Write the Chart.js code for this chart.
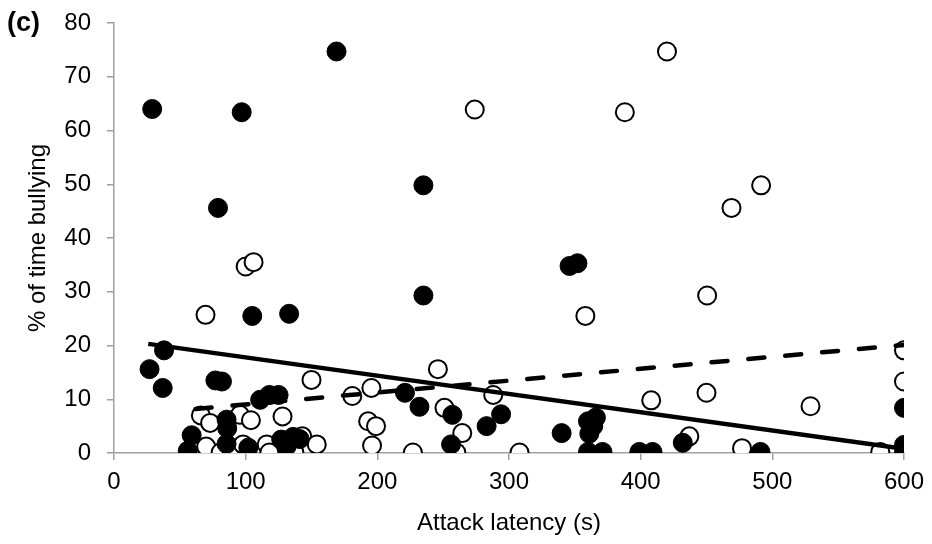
<!DOCTYPE html>
<html>
<head>
<meta charset="utf-8">
<script src="https://cdn.jsdelivr.net/npm/chart.js@4.4.1/dist/chart.umd.min.js"></script>
<style>
  html, body { margin: 0; padding: 0; background: #fff; }
  #wrap { width: 932px; height: 544px; }
</style>
</head>
<body>
<div id="wrap"><canvas id="myChart" width="932" height="544"></canvas></div>
<script>
// filled circles (black)
const filledX = [29, 97, 169, 235, 79, 346, 352, 105, 133, 235,
  38, 27, 37, 77, 82, 221, 232, 257, 294, 283,
  256, 56, 59, 85.5, 86, 85.5, 102, 111, 118, 125,
  127, 131, 136, 141, 340, 360, 366, 361, 364, 360,
  371, 399, 409, 432, 491, 600, 600, 600]
const filledY = [64.0, 63.4, 74.7, 49.8, 45.6, 34.8, 35.3, 25.5, 25.9, 29.3,
  19.1, 15.6, 12.1, 13.5, 13.3, 11.2, 8.6, 7.1, 7.2, 5.0,
  1.6, 0.4, 3.3, 6.2, 4.6, 1.7, 1.0, 9.9, 10.8, 10.8,
  2.5, 1.2, 3.0, 2.6, 3.7, 5.9, 6.6, 3.6, 5.0, 0.2,
  0.2, 0.2, 0.2, 1.9, 0.2, 1.5, 0.1, 8.4]

// open circles (white)
const openX = [274, 388, 420, 491.5, 469, 100, 106, 69.5, 358, 450.5,
  600, 600, 150, 246, 181, 195.5, 251, 288, 264.5, 260,
  227, 196, 193, 199, 308, 66, 73, 95.6, 104, 70,
  81, 89.5, 98, 116, 118, 128, 137, 143, 154, 408,
  437, 450, 529, 477, 582]
const openY = [63.9, 63.4, 74.7, 49.8, 45.6, 34.7, 35.5, 25.7, 25.5, 29.3,
  19.1, 13.3, 13.6, 15.6, 10.6, 12.1, 8.4, 10.8, 3.7, 0.1,
  0.1, 1.4, 5.9, 5.0, 0.1, 7.0, 5.6, 7.1, 6.1, 1.2,
  0.1, 0.1, 1.6, 1.6, 0.1, 6.8, 0.1, 3.1, 1.6, 9.8,
  3.1, 11.2, 8.7, 0.9, 0.2]

// trendline ends
const solidTrendX = [26, 600]
const solidTrendY = [20.3, 0.8]
const dashTrendX = [62, 600]
const dashTrendY = [8.2, 20.1]

const xTicks = [0, 100, 200, 300, 400, 500, 600]
const yTicks = [0, 10, 20, 30, 40, 50, 60, 70, 80]

const toPoints = (xs, ys) => xs.map((x, i) => ({x: x, y: ys[i]}))
const axisGray = '#a0a0a0'
const fontFamily = '"Liberation Sans", Arial, sans-serif'

const panelLabel = {
    id: 'panelLabel',
    afterDraw(chart) {
        const c = chart.ctx
        c.save()
        c.font = 'bold 27px ' + fontFamily
        c.fillStyle = '#000'
        c.textBaseline = 'middle'
        c.fillText('(c)', 7, 24)
        c.restore()
    }
}

const ctx = document.getElementById('myChart').getContext('2d')
const chart = new Chart(ctx, {
    type: 'scatter',
    data: {
        datasets: [{
            label: 'trend filled',
            type: 'line',
            data: toPoints(solidTrendX, solidTrendY),
            borderColor: '#000',
            borderWidth: 4.5,
            pointRadius: 0,
            fill: false,
            order: 0
        }, {
            label: 'trend open',
            type: 'line',
            data: toPoints(dashTrendX, dashTrendY),
            borderColor: '#000',
            borderWidth: 4.5,
            borderDash: [16, 21],
            borderCapStyle: 'round',
            pointRadius: 0,
            fill: false,
            order: 1
        }, {
            label: 'filled',
            data: toPoints(filledX, filledY),
            backgroundColor: '#000',
            borderColor: '#000',
            borderWidth: 1,
            pointRadius: 9.5,
            order: 2
        }, {
            label: 'open',
            data: toPoints(openX, openY),
            backgroundColor: '#fff',
            borderColor: '#000',
            borderWidth: 2,
            pointRadius: 9,
            order: 3
        }]
    },
    options: {
        responsive: false,
        animation: false,
        events: [],
        layout: { padding: { top: 23, right: 27, left: 0, bottom: 0 } },
        plugins: { legend: { display: false }, tooltip: { enabled: false } },
        scales: {
            x: {
                type: 'linear',
                min: 0,
                max: 600,
                afterFit: s => { s.height = 91 },
                afterBuildTicks: s => { s.ticks = xTicks.map(v => ({value: v})) },
                grid: { drawOnChartArea: false, drawTicks: true, tickLength: 7, color: axisGray, lineWidth: 1.5 },
                border: { display: true, color: axisGray, width: 1.5 },
                ticks: { color: '#000', padding: 8, font: { family: fontFamily, size: 24 } },
                title: { display: true, text: 'Attack latency (s)', color: '#000', padding: { top: 0, bottom: 6 }, font: { family: fontFamily, size: 24 } }
            },
            y: {
                type: 'linear',
                min: 0,
                max: 80,
                afterFit: s => { s.width = 114; s.paddingTop = 0; s.paddingBottom = 0 },
                afterBuildTicks: s => { s.ticks = yTicks.map(v => ({value: v})) },
                grid: { drawOnChartArea: false, drawTicks: true, tickLength: 7, color: axisGray, lineWidth: 1.5 },
                border: { display: true, color: axisGray, width: 1.5 },
                ticks: { color: '#000', padding: 16, font: { family: fontFamily, size: 24 } },
                title: { display: true, text: '% of time bullying', color: '#000', padding: { top: 24, bottom: 0 }, font: { family: fontFamily, size: 24 } }
            }
        }
    },
    plugins: [panelLabel]
})
</script>
</body>
</html>
